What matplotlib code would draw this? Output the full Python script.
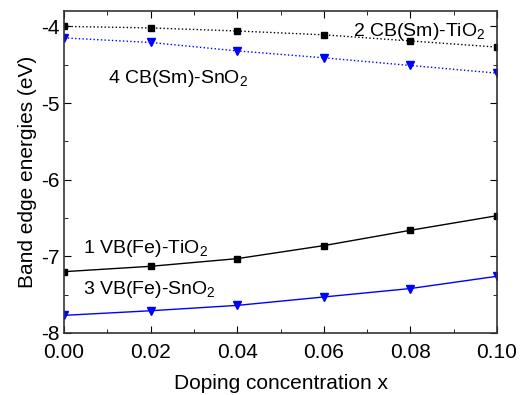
import numpy as np
import matplotlib.pyplot as plt
from matplotlib.ticker import MultipleLocator

plt.rcParams['font.family'] = ['Liberation Sans', 'DejaVu Sans']
plt.rcParams['mathtext.fontset'] = 'custom'
plt.rcParams['mathtext.rm'] = 'Liberation Sans'
plt.rcParams['axes.unicode_minus'] = False

# ================= DATA =================

x = [0.00, 0.02, 0.04, 0.06, 0.08, 0.10]

vb_tio2 = [-7.20, -7.13, -7.03, -6.86, -6.66, -6.47]
cb_tio2 = [-4.00, -4.02, -4.06, -4.11, -4.19, -4.27]
vb_sno2 = [-7.77, -7.71, -7.64, -7.53, -7.42, -7.26]
cb_sno2 = [-4.15, -4.21, -4.32, -4.41, -4.51, -4.61]

# ================= PLOT =================

fig = plt.figure(figsize=(5.21, 3.95), dpi=100)
ax = fig.add_axes([0.123, 0.157, 0.831, 0.815])

ax.plot(x, cb_tio2, color="black", ls=":", lw=1, marker="s", ms=5)
ax.plot(x, cb_sno2, color="blue", ls=":", lw=1, marker="v", ms=6)
ax.plot(x, vb_tio2, color="black", ls="-", lw=1, marker="s", ms=5)
ax.plot(x, vb_sno2, color="blue", ls="-", lw=1, marker="v", ms=6)

fs = 15
afs = 14
ax.text(0.0667, -4.13, "2 CB(Sm)-TiO$_2$", fontsize=afs)
ax.text(0.0102, -4.74, "4 CB(Sm)-SnO$_2$", fontsize=afs)
ax.text(0.0044, -6.95, "1 VB(Fe)-TiO$_2$", fontsize=afs)
ax.text(0.0044, -7.49, "3 VB(Fe)-SnO$_2$", fontsize=afs)

ax.set_xlim(0, 0.10)
ax.set_ylim(-8, -3.8)
ax.xaxis.set_major_locator(MultipleLocator(0.02))
ax.xaxis.set_minor_locator(MultipleLocator(0.01))
ax.yaxis.set_major_locator(MultipleLocator(1))
ax.yaxis.set_minor_locator(MultipleLocator(0.5))
ax.xaxis.set_major_formatter(plt.FormatStrFormatter("%.2f"))

ax.tick_params(which="both", direction="in", top=True, right=True, labelsize=fs)
ax.tick_params(which="major", length=5)
ax.tick_params(which="minor", length=3)
ax.tick_params(axis="x", which="major", pad=7)
for s in ax.spines.values():
    s.set_linewidth(1.2)
    s.set_color("#333333")

ax.set_xlabel("Doping concentration x", fontsize=fs, labelpad=9)
ax.set_ylabel("Band edge energies (eV)", fontsize=fs, labelpad=3)

fig.savefig("out.png", dpi=100)
